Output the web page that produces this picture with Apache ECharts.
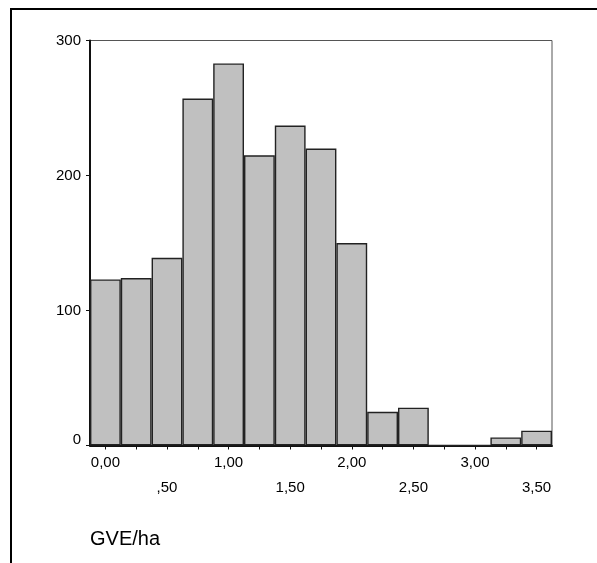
<!DOCTYPE html>
<html>
<head>
<meta charset="utf-8">
<script src="https://cdn.jsdelivr.net/npm/echarts@6/dist/echarts.min.js"></script>
<style>
  html, body { margin: 0; padding: 0; background: #fff; }
  #wrap { position: relative; width: 597px; height: 563px; overflow: hidden; }
  #frame { position: absolute; left: 10px; top: 8px; width: 600px; height: 600px;
           border-top: 2px solid #000; border-left: 2px solid #000; }
  #chart { position: absolute; left: 0; top: 0; width: 597px; height: 563px; }
</style>
</head>
<body>
<div id="wrap">
  <div id="frame"></div>
  <div id="chart"></div>
</div>
<script>
// Bin centres (GVE/ha), labels as printed by SPSS
const binLabels = ['0,00', ',25', ',50', ',75', '1,00', '1,25', '1,50', '1,75',
                   '2,00', '2,25', '2,50', '2,75', '3,00', '3,25', '3,50'];
// Frequencies
const counts = [123, 124, 139, 257, 283, 215, 237, 220, 150, 25, 28, 0, 0, 6, 11];
const yTicks = { min: 0, max: 300, interval: 100 };
const axisTitle = 'GVE/ha';

const chart = echarts.init(document.getElementById('chart'), null, { renderer: 'canvas' });
const font = 'Liberation Sans, Arial, sans-serif';

chart.setOption({
  animation: false,
  backgroundColor: 'transparent',
  title: {
    text: axisTitle,
    left: 85,
    top: 524,
    textStyle: { fontFamily: font, fontSize: 20, fontWeight: 'normal', color: '#000' }
  },
  grid: {
    left: 90, right: 45, top: 40.5, bottom: 117.5,
    show: true, borderColor: '#555', borderWidth: 1, backgroundColor: 'transparent'
  },
  xAxis: {
    type: 'category',
    data: binLabels,
    boundaryGap: true,
    axisLine: { show: true, lineStyle: { color: '#111', width: 2 } },
    axisTick: { show: true, alignWithLabel: true, interval: 0, length: 4, lineStyle: { color: '#111', width: 1 } },
    axisLabel: {
      interval: 1,
      margin: 10,
      fontFamily: font,
      fontSize: 15,
      color: '#000',
      formatter: function (value, index) {
        return (index % 4 === 0) ? '{a|' + value + '}' : '{b|' + value + '}';
      },
      rich: {
        a: { fontFamily: font, fontSize: 15, color: '#000' },
        b: { fontFamily: font, fontSize: 15, color: '#000', padding: [25, 0, 0, 0] }
      }
    },
    splitLine: { show: false }
  },
  yAxis: {
    type: 'value',
    min: yTicks.min, max: yTicks.max, interval: yTicks.interval,
    axisLine: { show: true, lineStyle: { color: '#111', width: 2 } },
    axisTick: { show: true, length: 4, lineStyle: { color: '#111', width: 1 } },
    axisLabel: {
      margin: 9,
      fontFamily: font,
      fontSize: 15,
      color: '#000',
      formatter: function (v) { return v === 0 ? '{z|0}' : '{n|' + v + '}'; },
      rich: {
        n: { fontFamily: font, fontSize: 15, color: '#000' },
        z: { fontFamily: font, fontSize: 15, color: '#000', padding: [0, 0, 12, 0] }
      }
    },
    splitLine: { show: false }
  },
  series: [{
    type: 'bar',
    data: counts,
    barWidth: '100%',
    barCategoryGap: '0%',
    itemStyle: { color: '#c0c0c0', borderColor: '#222', borderWidth: 1.4 }
  }]
});
</script>
</body>
</html>
